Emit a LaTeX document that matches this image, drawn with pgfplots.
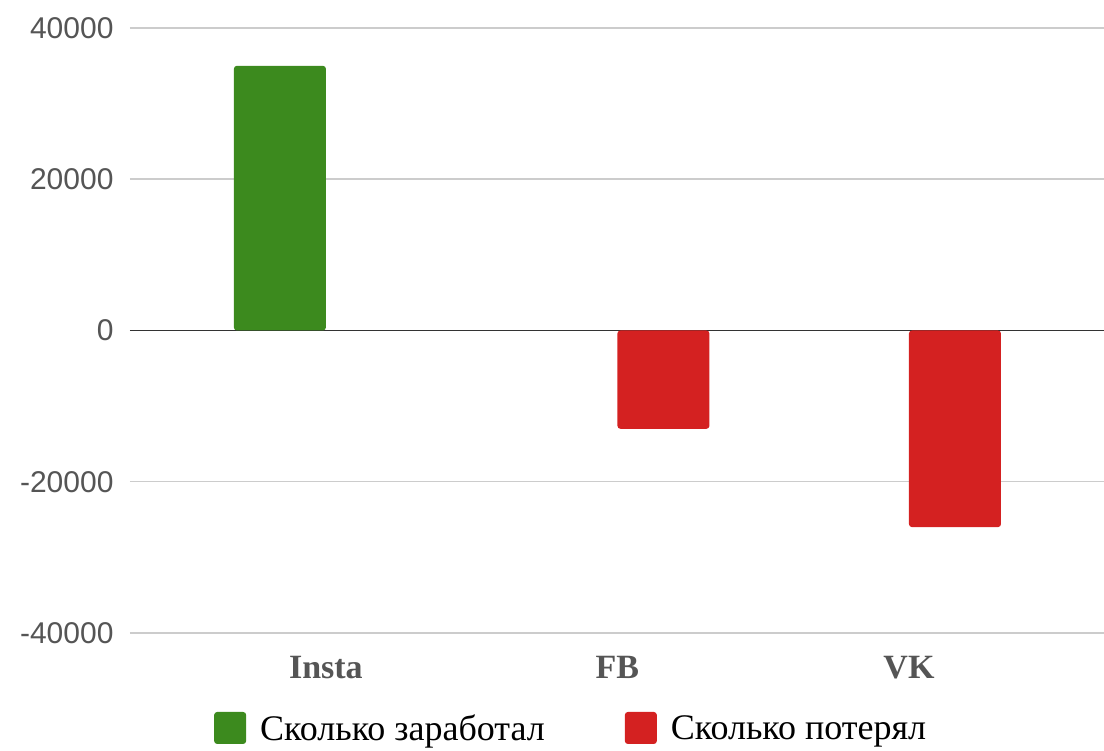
\documentclass[border=0pt]{standalone}
\usepackage{fontspec}
\setmainfont{Liberation Serif}
\setsansfont{Liberation Sans}
\usepackage{pgfplots}
\pgfplotsset{compat=1.18}
\definecolor{gr}{RGB}{60,138,30}
\definecolor{rd}{RGB}{212,33,33}
\definecolor{tk}{RGB}{85,85,85}
\begin{document}
\begin{tikzpicture}
\path[use as bounding box] (-130pt,-118pt) rectangle (974pt,633pt);
\begin{axis}[
  at={(0,0)}, anchor=south west,
  scale only axis, width=974pt, height=605pt,
  xmin=-0.672, xmax=2.669,
  ymin=-40000, ymax=40000,
  ytick={-40000,-20000,0,20000,40000},
  scaled y ticks=false,
  xtick={0,1,2}, xticklabels={Insta,FB,VK},
  axis line style={draw=none},
  major tick length=0pt,
  ymajorgrids, grid style={black!20, line width=1.5pt},
  extra y ticks={0}, extra y tick labels={},
  extra y tick style={grid style={black!80, line width=1.8pt}},
  /pgf/number format/1000 sep={},
  /pgf/number format/assume math mode=true,
  yticklabel style={font=\sffamily\fontsize{30}{36}\selectfont, text=tk, xshift=-13pt},
  xticklabel style={font=\bfseries\fontsize{34}{40}\selectfont, text=tk, yshift=-20pt},
  ybar, bar width=92pt,
  legend columns=2,
  legend style={draw=none, fill=none, inner sep=0pt, at={(0.0862,-0.157)}, anchor=west,
    font=\fontsize{36}{42}\selectfont, text=black,
    /tikz/every even column/.append style={column sep=78pt}},
  legend image code/.code={\fill[#1] (0pt,-16pt) rectangle (32pt,16pt); \path (44pt,0pt);},
]
\addplot[fill=gr, draw=none, bar shift=-46pt, rounded corners=3pt] coordinates {(0,35000)};
\addplot[fill=rd, draw=none, bar shift=46pt, rounded corners=3pt] coordinates {(1,-13000) (2,-26000)};
\legend{Сколько заработал, Сколько потерял}
\end{axis}
\end{tikzpicture}
\end{document}
